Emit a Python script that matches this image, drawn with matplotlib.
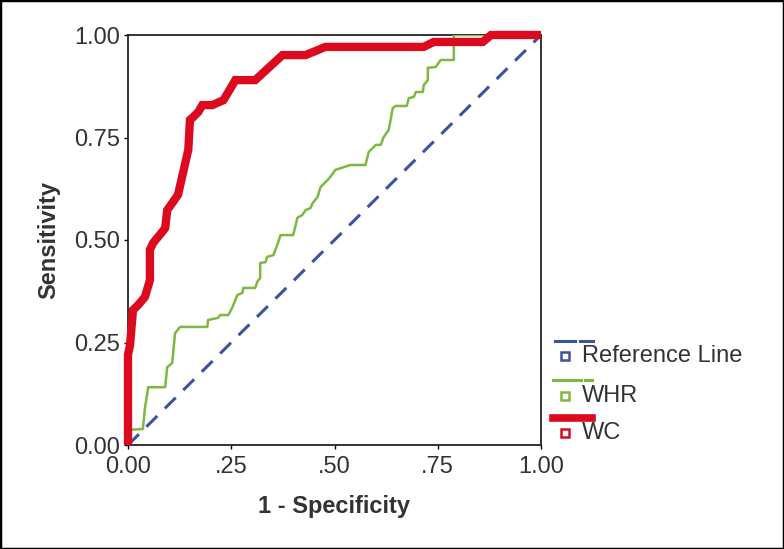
import matplotlib
matplotlib.use("Agg")
import matplotlib.pyplot as plt
from matplotlib.lines import Line2D
from matplotlib.patches import Rectangle

plt.rcParams['font.family'] = ['Liberation Sans', 'DejaVu Sans']

# ROC curve points
wc_fpr = [0.0, 0.0, 0.005, 0.012, 0.024, 0.041, 0.053, 0.053, 0.061, 0.083,
          0.090, 0.095, 0.107, 0.121, 0.146, 0.150, 0.158, 0.170, 0.180, 0.204,
          0.231, 0.243, 0.260, 0.308, 0.374, 0.430, 0.478, 0.716, 0.740, 0.859,
          0.879, 1.0]
wc_tpr = [0.0, 0.22, 0.244, 0.329, 0.341, 0.361, 0.402, 0.476, 0.493, 0.520,
          0.529, 0.573, 0.590, 0.610, 0.720, 0.793, 0.800, 0.812, 0.829, 0.829,
          0.841, 0.861, 0.890, 0.890, 0.951, 0.951, 0.971, 0.971, 0.983, 0.983,
          1.0, 1.0]

whr_fpr = [0.0, 0.0, 0.036, 0.041, 0.049, 0.090, 0.095, 0.107, 0.114, 0.126,
           0.192, 0.194, 0.218, 0.223, 0.243, 0.252, 0.260, 0.265, 0.277, 0.279,
           0.308, 0.313, 0.320, 0.320, 0.333, 0.337, 0.352, 0.357, 0.364, 0.369,
           0.400, 0.405, 0.410, 0.422, 0.430, 0.442, 0.447, 0.459, 0.466, 0.483,
           0.490, 0.502, 0.539, 0.575, 0.583, 0.600, 0.612, 0.619, 0.631, 0.636,
           0.641, 0.648, 0.675, 0.680, 0.692, 0.697, 0.714, 0.716, 0.726, 0.726,
           0.745, 0.757, 0.789, 0.789, 1.0]
whr_tpr = [0.0, 0.037, 0.039, 0.090, 0.141, 0.141, 0.190, 0.200, 0.273, 0.288,
           0.288, 0.305, 0.310, 0.317, 0.317, 0.334, 0.354, 0.366, 0.371, 0.383,
           0.383, 0.398, 0.407, 0.444, 0.446, 0.459, 0.463, 0.476, 0.495, 0.512,
           0.512, 0.532, 0.554, 0.561, 0.573, 0.578, 0.590, 0.605, 0.629, 0.646,
           0.654, 0.671, 0.683, 0.683, 0.715, 0.732, 0.732, 0.751, 0.768, 0.793,
           0.822, 0.827, 0.827, 0.846, 0.849, 0.861, 0.861, 0.878, 0.890, 0.920,
           0.922, 0.939, 0.939, 1.0, 1.0]

ref_x = [0.0, 1.0]
ref_y = [0.0, 1.0]

ticks = [0.0, 0.25, 0.5, 0.75, 1.0]
x_ticklabels = ['0.00', '.25', '.50', '.75', '1.00']
y_ticklabels = ['0.00', '0.25', '0.50', '0.75', '1.00']
legend_labels = ['Reference Line', 'WHR', 'WC']

RED = '#dc0a1e'
GREEN = '#7db843'
BLUE = '#3c539f'
TXT = '#333333'

W, H = 784, 549
fig = plt.figure(figsize=(W / 100, H / 100), dpi=100)


def fx(px):
    return px / W


def fy(py):
    return 1 - py / H


ax = fig.add_axes([fx(128), fy(445), fx(541) - fx(128), fy(35) - fy(445)])

ax.plot(ref_x, ref_y, color=BLUE, lw=2.2, dashes=(5, 3.5), zorder=2)
ax.plot(whr_fpr, whr_tpr, color=GREEN, lw=1.8, zorder=3)
ax.plot(wc_fpr, wc_tpr, color=RED, lw=6, zorder=4, clip_on=False,
        solid_joinstyle='miter', solid_capstyle='butt')

ax.set_xlim(0, 1)
ax.set_ylim(0, 1)
ax.set_xticks(ticks)
ax.set_xticklabels(x_ticklabels)
ax.set_yticks(ticks)
ax.set_yticklabels(y_ticklabels)
ax.tick_params(direction='out', length=3, width=1, labelsize=17,
               labelcolor=TXT, pad=3)
ax.tick_params(axis='x', pad=5)
for s in ax.spines.values():
    s.set_linewidth(1.3)
    s.set_color('#222222')

ax.set_xlabel('1 - Specificity', fontsize=17, fontweight='bold',
              color=TXT, labelpad=12)
ax.set_ylabel('Sensitivity', fontsize=17, fontweight='bold',
              color=TXT, labelpad=10)

# custom legend drawn in figure coordinates
colors = [BLUE, GREEN, RED]
line_y = [341, 380, 418]
text_y = [356, 396, 433]
for lab, c, ly, ty in zip(legend_labels, colors, line_y, text_y):
    if c == BLUE:
        fig.add_artist(Line2D([fx(555), fx(575)], [fy(ly), fy(ly)], color=c, lw=2.2))
        fig.add_artist(Line2D([fx(580), fx(593)], [fy(ly), fy(ly)], color=c, lw=2.2))
    elif c == GREEN:
        fig.add_artist(Line2D([fx(553), fx(581)], [fy(ly), fy(ly)], color=c, lw=2.2))
        fig.add_artist(Line2D([fx(585), fx(592)], [fy(ly), fy(ly)], color=c, lw=2.2))
    else:
        fig.add_artist(Line2D([fx(553), fx(592)], [fy(ly), fy(ly)], color=c, lw=5.5))
    fig.add_artist(Line2D([fx(565)], [fy(ty)], marker='s', markersize=5.5,
                          markerfacecolor='white', markeredgecolor=c,
                          markeredgewidth=1.8, linestyle='none'))
    fig.text(fx(582), fy(ty), lab, fontsize=17, color=TXT,
             ha='left', va='center')

# frame around the whole picture
fig.add_artist(Rectangle((0, 0), 1, 1, transform=fig.transFigure,
                         fill=False, edgecolor='black', lw=2.5))

fig.savefig('out.png', dpi=100)
